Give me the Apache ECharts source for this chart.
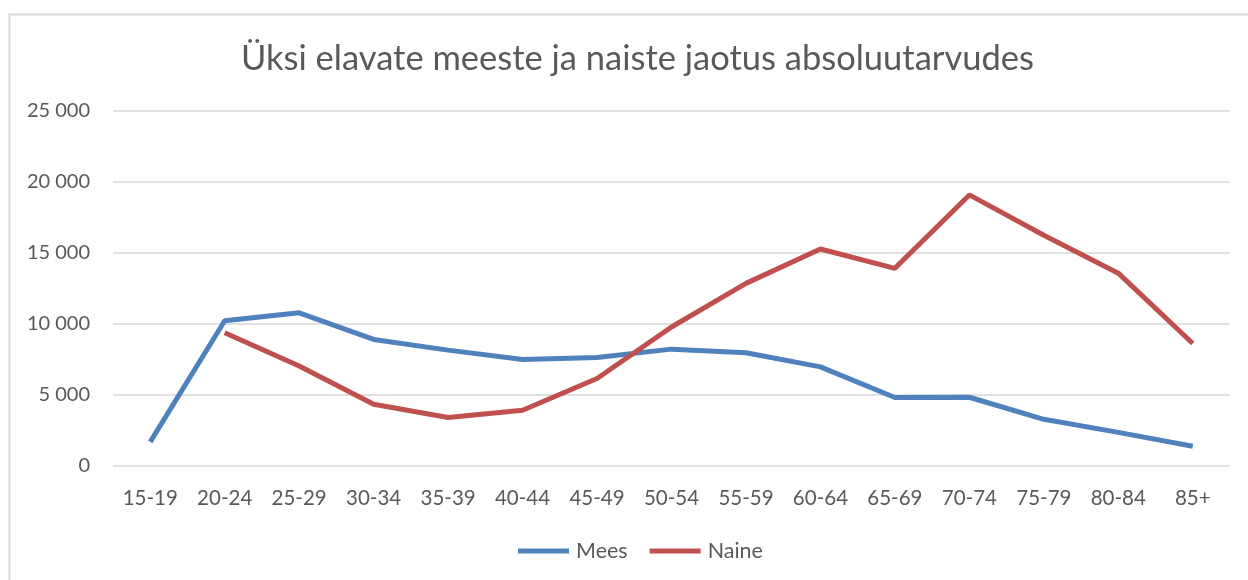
<!DOCTYPE html>
<html>
<head>
<meta charset="utf-8">
<script src="https://cdn.jsdelivr.net/npm/echarts@6/dist/echarts.min.js"></script>
<style>
  html, body { margin: 0; padding: 0; background: #fff; }
  #chart { width: 1248px; height: 580px; }
</style>
</head>
<body>
<div id="chart"></div>
<script>
const categories = ['15-19', '20-24', '25-29', '30-34', '35-39', '40-44', '45-49', '50-54',
  '55-59', '60-64', '65-69', '70-74', '75-79', '80-84', '85+']
const mees = [1700, 10230, 10790, 8910, 8160, 7500, 7640, 8230, 7970, 6980, 4820, 4840, 3290, 2370, 1390]
const naine = [null, 9380, 7040, 4350, 3410, 3930, 6160, 9790, 12860, 15280, 13920, 19090, 16250, 13580, 8630]
const yTicks = [0, 5000, 10000, 15000, 20000, 25000]

const chart = echarts.init(document.getElementById('chart'))

const textColor = '#595959'
const font = 'Lato, "Open Sans", sans-serif'

const option = {
  animation: false,
  color: ['#4F81BD', '#C0504D'],
  graphic: [{
    type: 'rect',
    left: 7,
    top: 12,
    shape: { width: 1400, height: 700 },
    style: { fill: 'none', stroke: '#d9d9d9', lineWidth: 2 },
    silent: true
  }],
  title: {
    text: 'Üksi elavate meeste ja naiste jaotus absoluutarvudes',
    left: 236,
    top: 36,
    textStyle: {
      color: textColor,
      fontSize: 34.5,
      fontWeight: 'normal',
      fontFamily: font
    }
  },
  legend: {
    bottom: 13,
    left: 513,
    icon: 'rect',
    itemWidth: 51,
    itemHeight: 5,
    itemGap: 22,
    textStyle: { color: textColor, fontSize: 21.5, fontFamily: font, padding: [0, 0, 0, 2] },
    data: ['Mees', 'Naine']
  },
  grid: { left: 113, right: 18, top: 111, bottom: 114 },
  xAxis: {
    type: 'category',
    data: categories,
    boundaryGap: true,
    axisLine: { show: false },
    axisTick: { show: false },
    axisLabel: { color: textColor, fontSize: 20.5, fontFamily: font, margin: 22 }
  },
  yAxis: {
    type: 'value',
    min: yTicks[0],
    max: yTicks[yTicks.length - 1],
    interval: 5000,
    axisLine: { show: false },
    axisTick: { show: false },
    splitLine: { lineStyle: { color: '#d9d9d9', width: 1.5 } },
    axisLabel: {
      color: textColor,
      fontSize: 20,
      fontFamily: font,
      margin: 23,
      formatter: v => String(v).replace(/\B(?=(\d{3})+(?!\d))/g, ' ')
    }
  },
  series: [
    {
      name: 'Mees',
      type: 'line',
      data: mees,
      showSymbol: false,
      lineStyle: { width: 5 }
    },
    {
      name: 'Naine',
      type: 'line',
      data: naine,
      showSymbol: false,
      connectNulls: false,
      lineStyle: { width: 5 }
    }
  ]
}

chart.setOption(option)
</script>
</body>
</html>
